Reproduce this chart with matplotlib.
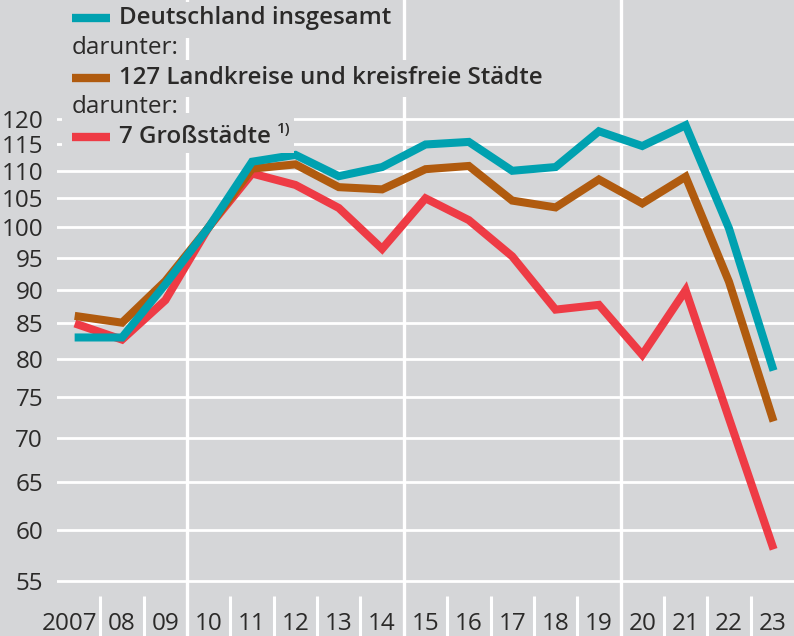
import matplotlib
matplotlib.use("Agg")
import matplotlib.pyplot as plt
from matplotlib.lines import Line2D
from matplotlib.patches import Rectangle

# --- data (index) ---
years = list(range(2007, 2024))
year_labels = ["2007", "08", "09", "10", "11", "12", "13", "14", "15",
               "16", "17", "18", "19", "20", "21", "22", "23"]
deutschland = [83.0, 83.0, 90.8, 100.0, 111.7, 113.0, 109.0, 110.7, 115.0,
               115.5, 110.0, 110.7, 117.6, 114.7, 118.8, 99.8, 79.0]
landkreise = [86.0, 85.1, 91.3, 100.0, 110.4, 111.2, 107.0, 106.6, 110.3,
              110.9, 104.6, 103.4, 108.4, 104.1, 108.9, 91.2, 72.5]
grossstaedte = [84.8, 82.7, 88.4, 100.0, 109.5, 107.4, 103.3, 96.4, 105.0,
                101.2, 95.2, 87.0, 87.7, 80.6, 89.9, 72.4, 58.4]
y_ticks = [55, 60, 65, 70, 75, 80, 85, 90, 95, 100, 105, 110, 115, 120]

# --- style ---
BG = "#d5d6d8"
TEAL = "#00a1b0"
BROWN = "#b05b0f"
RED = "#ee3b45"
TXT = "#2b2a29"
FONT = "Open Sans"
W, H = 794, 636

plt.rcParams["font.family"] = [FONT, "DejaVu Sans"]

fig = plt.figure(figsize=(W / 100, H / 100), dpi=100, facecolor=BG)
ax = fig.add_axes([57 / W, 0, (W - 57) / W, 1])
ax.set_facecolor(BG)
for s in ax.spines.values():
    s.set_visible(False)

ax.set_yscale("log")
ax.set_ylim(50.12, 146.8)
ax.set_xlim(2006.5, 2023.5)

# horizontal grid
for v in y_ticks:
    ax.axhline(v, color="white", lw=2.0, zorder=1)
# major separators (full height)
for xv in [2009.5, 2014.5, 2019.5]:
    ax.axvline(xv, color="white", lw=2.4, zorder=1)
# small year separators at the bottom
tb = ax.get_xaxis_transform()
for i in range(len(years) - 1):
    xv = years[i] + 0.5
    ax.plot([xv, xv], [0, 40 / H], color="white", lw=2.2, transform=tb,
            zorder=1, solid_capstyle="butt")

ax.set_yticks(y_ticks)
ax.set_yticklabels([str(v) for v in y_ticks])
ax.yaxis.set_minor_locator(matplotlib.ticker.NullLocator())
ax.tick_params(axis="y", length=0, pad=10, labelsize=17.5, labelcolor=TXT)
ax.set_xticks([])

# x labels
for yr, lab in zip(years, year_labels):
    if lab == "2007":
        ax.text(yr + 0.44, 0.5 / H, lab, transform=tb, ha="right", va="bottom",
                fontsize=17.5, color=TXT)
    else:
        ax.text(yr, 0.5 / H, lab, transform=tb, ha="center", va="bottom",
                fontsize=17.5, color=TXT)

# series
lw = 5.8
ax.plot(years, grossstaedte, color=RED, lw=lw, zorder=3, solid_joinstyle="miter")
ax.plot(years, landkreise, color=BROWN, lw=lw, zorder=4, solid_joinstyle="miter")
ax.plot(years, deutschland, color=TEAL, lw=lw, zorder=5, solid_joinstyle="miter")


# --- legend drawn by hand in pixel coords ---
def fx(px):
    return px / W


def fy(py):
    return 1 - py / H


def box(x0, x1, y0, y1):
    fig.add_artist(Rectangle((fx(x0), fy(y1)), fx(x1) - fx(x0), fy(y0) - fy(y1),
                             transform=fig.transFigure, facecolor=BG,
                             edgecolor="none", zorder=2))


box(62, 395, 2, 38)
box(62, 560, 60, 97)
box(62, 294, 113, 153)

rows = [(18, TEAL, "Deutschland insgesamt"),
        (78, BROWN, "127 Landkreise und kreisfreie Städte"),
        (137, RED, "7 Großstädte")]
for py, col, lab in rows:
    fig.add_artist(Line2D([fx(72), fx(110)], [fy(py), fy(py)], color=col, lw=6,
                          transform=fig.transFigure, zorder=3,
                          solid_capstyle="butt"))
    fig.text(fx(119), fy(py), lab, ha="left", va="center", fontsize=17.4,
             fontweight="semibold", color=TXT, zorder=4)

for py in [48, 107]:
    fig.text(fx(72), fy(py), "darunter:", ha="left", va="center", fontsize=17.5,
             color=TXT, zorder=4)
fig.text(fx(277), fy(129), "1)", ha="left", va="center", fontsize=11,
         fontweight="semibold", color=TXT, zorder=4)

fig.savefig("out.png", dpi=100, facecolor=BG)
